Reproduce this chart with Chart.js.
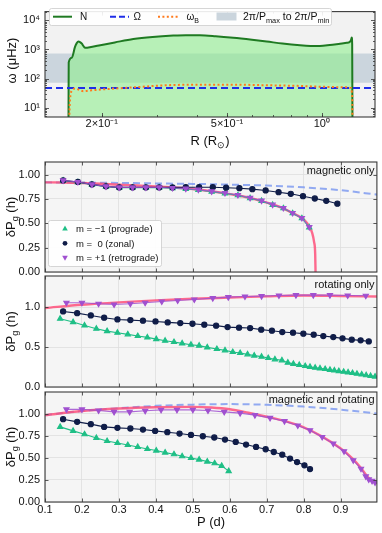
<!DOCTYPE html>
<html>
<head>
<meta charset="utf-8">
<script src="https://cdn.jsdelivr.net/npm/chart.js@4.4.1/dist/chart.umd.min.js"></script>
<style>
  body { margin: 0; background: #fff; }
  #fig { position: relative; width: 382px; height: 533px; overflow: hidden; }
  #fig canvas { position: absolute; left: 0; }
</style>
</head>
<body>
<div id="fig">
  <canvas id="freqChart" width="382" height="150" style="top:0px"></canvas>
  <canvas id="magChart" width="382" height="145" style="top:140px"></canvas>
  <canvas id="rotChart" width="382" height="138" style="top:262px"></canvas>
  <canvas id="bothChart" width="382" height="155" style="top:378px"></canvas>
</div>
<script>
// ---- top panel: frequencies vs radius ----
const rN = [0.1567, 0.1570, 0.1606, 0.1644, 0.1665, 0.1686, 0.1705, 0.1729, 0.175, 0.1772, 0.185, 0.1977, 0.22, 0.2519, 0.29, 0.3374, 0.37, 0.41, 0.46, 0.5234, 0.6, 0.6682, 0.75, 0.8528, 0.92, 0.9864, 1.06, 1.143, 1.2, 1.225, 1.238, 1.245, 1.249, 1.252];
const freqN = [1, 360, 521, 1230, 1650, 1875, 1800, 1585, 1300, 1150, 1220, 1400, 1750, 2290, 2700, 3000, 3100, 3080, 2850, 2520, 2150, 1875, 1600, 1400, 1330, 1320, 1420, 1585, 1700, 1780, 2100, 2570, 1500, 1];
const rB = [0.157, 0.1586, 0.1618, 0.1644, 0.1686, 0.1748, 0.1835, 0.1977, 0.2519, 0.3214, 0.4101, 0.5234, 0.6682, 0.8528, 0.969, 1.2, 1.235, 1.25, 1.252];
const freqB = [1, 21, 42, 46, 42, 37, 39, 42, 50, 59, 62, 62, 59, 56, 53, 50, 48, 20, 1];
const freqOmega = 48;
const bandLow = 72.7;   // 2pi/Pmax
const bandHigh = 727;   // 2pi/Pmin
const rMin = 0.132, rMax = 1.476;
const freqMin = 4.8, freqMax = 20000;
const rTicks = [0.2, 0.5, 1.0];
const rTickLabels = ['2×10⁻¹', '5×10⁻¹', '10⁰'];
const freqTicks = [10, 100, 1000, 10000];
const freqTickLabels = ['10¹', '10²', '10³', '10⁴'];

// ---- bottom panels: period spacing vs period ----
const periodTicks = [0.1, 0.2, 0.3, 0.4, 0.5, 0.6, 0.7, 0.8, 0.9];

// magnetic only
const magProP = [0.149, 0.189, 0.227, 0.265, 0.301, 0.337, 0.373, 0.409, 0.445, 0.481, 0.515, 0.551, 0.587, 0.622, 0.655, 0.686, 0.716, 0.745, 0.770, 0.795, 0.815];
const magPro = [0.938, 0.922, 0.897, 0.877, 0.866, 0.866, 0.866, 0.866, 0.860, 0.852, 0.842, 0.825, 0.808, 0.788, 0.758, 0.730, 0.689, 0.655, 0.603, 0.552, 0.458];
const magZonalP = [0.149, 0.189, 0.227, 0.265, 0.301, 0.337, 0.373, 0.409, 0.445, 0.481, 0.517, 0.554, 0.590, 0.626, 0.661, 0.697, 0.732, 0.765, 0.798, 0.830, 0.861, 0.891];
const magZonal = [0.941, 0.925, 0.900, 0.880, 0.869, 0.869, 0.869, 0.869, 0.869, 0.871, 0.871, 0.871, 0.866, 0.861, 0.851, 0.838, 0.820, 0.803, 0.779, 0.755, 0.731, 0.702];
const magRetroP = [0.149, 0.189, 0.227, 0.265, 0.301, 0.337, 0.373, 0.409, 0.445, 0.481, 0.515, 0.551, 0.587, 0.622, 0.655, 0.686, 0.716, 0.745, 0.770, 0.795, 0.815];
const magRetro = [0.941, 0.925, 0.900, 0.880, 0.869, 0.869, 0.869, 0.869, 0.863, 0.856, 0.846, 0.828, 0.812, 0.791, 0.761, 0.733, 0.692, 0.658, 0.606, 0.555, 0.462];
const magTheoryP = [0.10, 0.15, 0.2, 0.25, 0.3, 0.35, 0.4, 0.45, 0.5, 0.55, 0.6, 0.65, 0.7, 0.74, 0.77, 0.80, 0.815, 0.823, 0.828, 0.831, 0.832];
const magTheory = [0.921, 0.92, 0.915, 0.907, 0.897, 0.889, 0.880, 0.868, 0.853, 0.830, 0.800, 0.765, 0.712, 0.662, 0.606, 0.540, 0.468, 0.40, 0.31, 0.19, 0.0];
const magApproxP = [0.1, 0.2, 0.3, 0.4, 0.5, 0.6, 0.7, 0.8, 0.9, 1.0];
const magApprox = [0.921, 0.919, 0.915, 0.910, 0.905, 0.898, 0.888, 0.870, 0.840, 0.794];

// rotating only
const rotProP = [0.141, 0.176, 0.207, 0.239, 0.268, 0.296, 0.324, 0.351, 0.377, 0.401, 0.425, 0.449, 0.471, 0.495, 0.517, 0.539, 0.565, 0.587, 0.608, 0.628, 0.648, 0.666, 0.686, 0.704, 0.722, 0.741, 0.757, 0.772, 0.788, 0.804, 0.817, 0.831, 0.844, 0.858, 0.871, 0.883, 0.895, 0.908, 0.920, 0.932, 0.944, 0.957, 0.969, 0.981, 0.993];
const rotPro = [0.855, 0.813, 0.771, 0.730, 0.700, 0.680, 0.659, 0.638, 0.621, 0.600, 0.580, 0.563, 0.546, 0.530, 0.518, 0.496, 0.475, 0.459, 0.438, 0.425, 0.409, 0.393, 0.380, 0.363, 0.346, 0.334, 0.305, 0.290, 0.276, 0.263, 0.252, 0.242, 0.233, 0.225, 0.215, 0.207, 0.199, 0.191, 0.183, 0.175, 0.166, 0.157, 0.148, 0.139, 0.130];
const rotZonalP = [0.149, 0.187, 0.224, 0.260, 0.296, 0.331, 0.365, 0.399, 0.432, 0.466, 0.499, 0.531, 0.563, 0.594, 0.625, 0.655, 0.685, 0.714, 0.742, 0.771, 0.799, 0.827, 0.853, 0.880, 0.905, 0.930, 0.954, 0.976];
const rotZonal = [0.946, 0.925, 0.896, 0.868, 0.846, 0.838, 0.830, 0.821, 0.809, 0.800, 0.792, 0.780, 0.768, 0.750, 0.743, 0.738, 0.718, 0.705, 0.688, 0.680, 0.668, 0.655, 0.638, 0.625, 0.609, 0.593, 0.584, 0.571];
const rotRetroP = [0.158, 0.200, 0.245, 0.287, 0.331, 0.371, 0.416, 0.459, 0.504, 0.554, 0.596, 0.641, 0.686, 0.733, 0.779, 0.826, 0.871, 0.919, 0.968];
const rotRetro = [1.055, 1.055, 1.043, 1.034, 1.043, 1.055, 1.071, 1.084, 1.096, 1.113, 1.125, 1.134, 1.138, 1.146, 1.15, 1.15, 1.15, 1.146, 1.143];
const rotTheoryP = [0.1, 0.2, 0.3, 0.4, 0.5, 0.6, 0.7, 0.8, 0.9, 1.0];
const rotTheory = [0.99, 1.03, 1.06, 1.085, 1.105, 1.12, 1.135, 1.145, 1.14, 1.133];

// magnetic and rotating
const bothProP = [0.141, 0.176, 0.207, 0.239, 0.268, 0.296, 0.324, 0.351, 0.377, 0.401, 0.425, 0.449, 0.471, 0.495, 0.517, 0.539, 0.559, 0.578, 0.597];
const bothPro = [0.850, 0.805, 0.767, 0.725, 0.690, 0.668, 0.645, 0.623, 0.600, 0.582, 0.559, 0.540, 0.517, 0.498, 0.480, 0.457, 0.438, 0.409, 0.350];
const bothZonalP = [0.149, 0.187, 0.224, 0.260, 0.296, 0.331, 0.365, 0.398, 0.431, 0.464, 0.495, 0.527, 0.558, 0.587, 0.616, 0.644, 0.671, 0.697, 0.719, 0.742, 0.763, 0.782, 0.802, 0.817];
const bothZonal = [0.9375, 0.907, 0.881, 0.850, 0.839, 0.832, 0.820, 0.805, 0.790, 0.775, 0.759, 0.744, 0.730, 0.707, 0.680, 0.650, 0.623, 0.597, 0.566, 0.536, 0.491, 0.452, 0.415, 0.373];
const bothRetroP = [0.158, 0.200, 0.245, 0.287, 0.329, 0.371, 0.414, 0.457, 0.500, 0.541, 0.585, 0.628, 0.668, 0.709, 0.748, 0.784, 0.817, 0.850, 0.880, 0.909, 0.934, 0.955, 0.968, 0.976, 0.985, 0.993];
const bothRetro = [1.048, 1.048, 1.036, 1.020, 1.020, 1.032, 1.043, 1.043, 1.043, 1.036, 1.020, 1.006, 0.983, 0.952, 0.915, 0.866, 0.8125, 0.736, 0.661, 0.574, 0.472, 0.377, 0.290, 0.256, 0.239, 0.222];
const bothTheoryP = [0.1, 0.2, 0.3, 0.4, 0.5, 0.55, 0.6, 0.65, 0.7, 0.75, 0.8, 0.85, 0.9, 0.93, 0.955, 0.97, 0.98, 1.0];
const bothTheory = [0.983, 1.03, 1.058, 1.072, 1.077, 1.07, 1.05, 1.01, 0.965, 0.915, 0.845, 0.74, 0.605, 0.50, 0.385, 0.30, 0.255, 0.21];
const bothApproxP = [0.1, 0.2, 0.3, 0.4, 0.5, 0.6, 0.7, 0.8, 0.9, 1.0];
const bothApprox = [0.983, 1.03, 1.062, 1.088, 1.102, 1.108, 1.100, 1.08, 1.045, 1.0];

const FONT = '"Liberation Sans", Arial, sans-serif';
const GREEN = '#1fbf86', NAVY = '#101d48', PURPLE = '#a050d0';
const BAND = '#cbd5dd';

function xy(xs, ys) {
    return xs.map((x, i) => ({x: x, y: Array.isArray(ys) ? ys[i] : ys}));
}

// text with optional subscripts: parts = [[text, 'sub'?], ...]
function richText(ctx, parts, x, y, size, align) {
    let w = 0;
    parts.forEach(p => {
        ctx.font = (p[1] ? size * 0.7 : size) + 'px ' + FONT;
        w += ctx.measureText(p[0]).width;
    });
    let cx = align === 'center' ? x - w / 2 : (align === 'right' ? x - w : x);
    ctx.textAlign = 'left';
    ctx.textBaseline = 'alphabetic';
    parts.forEach(p => {
        ctx.font = (p[1] ? size * 0.7 : size) + 'px ' + FONT;
        ctx.fillText(p[0], cx, y + (p[1] ? size * 0.25 : 0));
        cx += ctx.measureText(p[0]).width;
    });
}

function vText(ctx, parts, x, yc, size) {
    ctx.save();
    ctx.translate(x, yc);
    ctx.rotate(-Math.PI / 2);
    richText(ctx, parts, 0, size * 0.35, size, 'center');
    ctx.restore();
}

function marker(ctx, kind, x, y, r, color) {
    ctx.fillStyle = color;
    ctx.beginPath();
    if (kind === 'circle') {
        ctx.arc(x, y, r, 0, Math.PI * 2);
    } else {
        const s = kind === 'up' ? 1 : -1;
        ctx.moveTo(x, y - s * r * 1.1);
        ctx.lineTo(x + r, y + s * r * 0.7);
        ctx.lineTo(x - r, y + s * r * 0.7);
        ctx.closePath();
    }
    ctx.fill();
}

// background, frame, inward ticks and extra text, per chart
function decor(off, bg, xTicks, yTicks, extra) {
    return {
        id: 'decor',
        beforeDraw(chart) {
            const a = chart.chartArea, ctx = chart.ctx;
            ctx.save();
            ctx.fillStyle = bg;
            ctx.fillRect(a.left, a.top, a.right - a.left, a.bottom - a.top);
            ctx.restore();
        },
        afterDraw(chart) {
            const a = chart.chartArea, ctx = chart.ctx;
            const sx = chart.scales.x, sy = chart.scales.y;
            ctx.save();
            ctx.strokeStyle = '#333';
            ctx.lineWidth = 0.8;
            ctx.beginPath();
            xTicks.forEach(t => {
                const px = Math.round(sx.getPixelForValue(t[0])) + 0.5;
                if (px < a.left || px > a.right) return;
                ctx.moveTo(px, a.bottom); ctx.lineTo(px, a.bottom - t[1]);
                ctx.moveTo(px, a.top); ctx.lineTo(px, a.top + t[1]);
            });
            yTicks.forEach(t => {
                const py = Math.round(sy.getPixelForValue(t[0])) + 0.5;
                if (py < a.top || py > a.bottom) return;
                ctx.moveTo(a.left, py); ctx.lineTo(a.left + t[1], py);
                ctx.moveTo(a.right, py); ctx.lineTo(a.right - t[1], py);
            });
            ctx.stroke();
            ctx.lineWidth = 1.1;
            ctx.strokeStyle = '#3a3a3a';
            ctx.strokeRect(a.left, a.top, a.right - a.left, a.bottom - a.top);
            ctx.translate(0, -off);
            ctx.fillStyle = '#111';
            extra(ctx);
            ctx.restore();
        }
    };
}

// ---------- top chart ----------
const logMinor = [];
[0.1, 1].forEach(d => { for (let k = 1; k < 10; k++) logMinor.push([d * k, 2]); });
const freqMinor = [];
[1, 10, 100, 1000, 10000].forEach(d => { for (let k = 2; k < 10; k++) freqMinor.push([d * k, 2]); });

new Chart(document.getElementById('freqChart'), {
    type: 'line',
    data: {
        datasets: [
            { data: xy(rB, freqB), borderColor: '#ff7a1c', borderWidth: 2, borderDash: [2, 2.4], pointRadius: 0, fill: false, cubicInterpolationMode: 'monotone', order: 1 },
            { data: xy([rMin, rMax], freqOmega), borderColor: '#1f2ee8', borderWidth: 2, borderDash: [7, 4], pointRadius: 0, fill: false, order: 2 },
            { data: xy(rN, freqN), borderColor: '#1f7a22', borderWidth: 2, backgroundColor: 'rgba(144,238,144,0.6)', fill: 'start', pointRadius: 0, cubicInterpolationMode: 'monotone', order: 3 },
            { data: xy([rMin, rMax], bandHigh), borderWidth: 0, borderColor: 'rgba(0,0,0,0)', backgroundColor: BAND, fill: '+1', pointRadius: 0, order: 4 },
            { data: xy([rMin, rMax], bandLow), borderWidth: 0, borderColor: 'rgba(0,0,0,0)', pointRadius: 0, fill: false, order: 5 }
        ]
    },
    options: {
        responsive: false,
        animation: false,
        layout: { padding: { top: 4, right: 7, left: 0, bottom: 0 } },
        plugins: { legend: { display: false }, tooltip: { enabled: false } },
        scales: {
            x: {
                type: 'logarithmic', min: rMin, max: rMax,
                grid: { display: false, drawTicks: false }, border: { display: false },
                afterBuildTicks: s => { s.ticks = rTicks.map(v => ({value: v})); },
                afterFit: s => { s.height = 33; },
                ticks: { callback: (v, i) => rTickLabels[i], font: { family: FONT, size: 11 }, color: '#111', padding: 0, maxRotation: 0, autoSkip: false }
            },
            y: {
                type: 'logarithmic', min: freqMin, max: freqMax,
                grid: { display: false, drawTicks: false }, border: { display: false },
                afterBuildTicks: s => { s.ticks = freqTicks.map(v => ({value: v})); },
                afterFit: s => { s.width = 45; },
                ticks: { callback: (v, i) => freqTickLabels[i], font: { family: FONT, size: 11 }, color: '#111', padding: 5, autoSkip: false }
            }
        }
    },
    plugins: [decor(0, '#f2f2f2',
        logMinor.concat(rTicks.map(v => [v, 4])),
        freqMinor.concat(freqTicks.map(v => [v, 4])),
        ctx => {
            // legend
            ctx.save();
            ctx.fillStyle = 'rgba(255,255,255,0.9)';
            ctx.strokeStyle = '#cccccc';
            ctx.lineWidth = 0.8;
            ctx.beginPath();
            ctx.roundRect(49.5, 8.5, 282, 17, 2);
            ctx.fill(); ctx.stroke();
            const cy = 16.7;
            ctx.lineWidth = 2;
            ctx.strokeStyle = '#1f7a22'; ctx.setLineDash([]);
            ctx.beginPath(); ctx.moveTo(53, cy); ctx.lineTo(72, cy); ctx.stroke();
            ctx.strokeStyle = '#1f2ee8'; ctx.setLineDash([6, 3]);
            ctx.beginPath(); ctx.moveTo(110, cy); ctx.lineTo(129, cy); ctx.stroke();
            ctx.strokeStyle = '#ff7a1c'; ctx.setLineDash([2, 2.4]);
            ctx.beginPath(); ctx.moveTo(158, cy); ctx.lineTo(178, cy); ctx.stroke();
            ctx.setLineDash([]);
            ctx.fillStyle = BAND;
            ctx.fillRect(216.5, 12.5, 20, 8);
            ctx.fillStyle = '#111';
            richText(ctx, [['N']], 80, cy + 3.6, 10, 'left');
            richText(ctx, [['Ω']], 133.5, cy + 3.6, 10, 'left');
            richText(ctx, [['ω'], ['B', 1]], 186.5, cy + 3.6, 10, 'left');
            richText(ctx, [['2π/P'], ['max', 1], [' to 2π/P'], ['min', 1]], 243, cy + 3.6, 10.5, 'left');
            ctx.restore();
            vText(ctx, [['ω (μHz)']], 11.5, 60.5, 13);
            richText(ctx, [['R (R'], ['⊙', 1], [')']], 210, 144.5, 13, 'center');
        })]
});

// ---------- bottom panels ----------
function panel(id, off, top, bottom, xHeight, yMax, yTicks, yDigits, series, extra, showX) {
    const datasets = [
        { data: xy(series.retroP, series.retro), borderColor: 'rgba(160,80,208,0.85)', backgroundColor: PURPLE, pointBackgroundColor: PURPLE, pointBorderColor: PURPLE, pointStyle: 'triangle', rotation: 180, pointRadius: 3, borderWidth: 1.1, order: 1 },
        { data: xy(series.zonalP, series.zonal), borderColor: NAVY, pointBackgroundColor: NAVY, pointBorderColor: NAVY, pointStyle: 'circle', pointRadius: 2.6, borderWidth: 1.1, order: 2 },
        { data: xy(series.proP, series.pro), borderColor: GREEN, pointBackgroundColor: GREEN, pointBorderColor: GREEN, pointStyle: 'triangle', pointRadius: 3, borderWidth: 1.1, order: 3 },
        { data: xy(series.theoryP, series.theory), borderColor: 'rgba(255,70,115,0.8)', borderWidth: 2.4, pointRadius: 0, cubicInterpolationMode: 'monotone', order: 4 }
    ];
    if (series.approxP) {
        datasets.push({ data: xy(series.approxP, series.approx), borderColor: 'rgba(120,150,240,0.8)', borderWidth: 2, borderDash: [7, 4], pointRadius: 0, cubicInterpolationMode: 'monotone', order: 5 });
    }
    return new Chart(document.getElementById(id), {
        type: 'line',
        data: { datasets: datasets },
        options: {
            responsive: false,
            animation: false,
            layout: { padding: { top: top - off, right: 5, left: 0, bottom: 0 } },
            plugins: { legend: { display: false }, tooltip: { enabled: false } },
            scales: {
                x: {
                    type: 'linear', min: 0.1, max: 0.998,
                    grid: { color: '#dedede', lineWidth: 0.8, drawTicks: false }, border: { display: false },
                    afterBuildTicks: s => { s.ticks = periodTicks.map(v => ({value: v})); },
                    afterFit: s => { s.height = xHeight; },
                    ticks: { display: showX, callback: v => v.toFixed(1), font: { family: FONT, size: 11 }, color: '#111', padding: 1, maxRotation: 0, autoSkip: false }
                },
                y: {
                    type: 'linear', min: 0, max: yMax,
                    grid: { color: '#dedede', lineWidth: 0.8, drawTicks: false }, border: { display: false },
                    afterBuildTicks: s => { s.ticks = yTicks.map(v => ({value: v})); },
                    afterFit: s => { s.width = 45; },
                    ticks: { callback: v => v.toFixed(yDigits), font: { family: FONT, size: 11 }, color: '#111', padding: 5, autoSkip: false }
                }
            }
        },
        plugins: [decor(off, '#f5f5f5', periodTicks.map(v => [v, 3.5]), yTicks.map(v => [v, 3.5]), ctx => {
            vText(ctx, [['δP'], ['g', 1], [' (h)']], 10, (top + bottom) / 2, 13);
            extra(ctx);
        })]
    });
}

panel('magChart', 140, 162, 272, 13, 1.13, [0, 0.25, 0.5, 0.75, 1.0], 2,
    { proP: magProP, pro: magPro, zonalP: magZonalP, zonal: magZonal, retroP: magRetroP, retro: magRetro,
      theoryP: magTheoryP, theory: magTheory, approxP: magApproxP, approx: magApprox },
    ctx => {
        richText(ctx, [['magnetic only']], 374.5, 173.5, 11, 'right');
        ctx.save();
        ctx.fillStyle = 'rgba(255,255,255,0.9)';
        ctx.strokeStyle = '#cccccc';
        ctx.lineWidth = 0.8;
        ctx.beginPath();
        ctx.roundRect(48.5, 220.5, 113, 46, 2);
        ctx.fill(); ctx.stroke();
        marker(ctx, 'up', 65, 228.5, 2.8, GREEN);
        marker(ctx, 'circle', 65, 243.3, 2.4, NAVY);
        marker(ctx, 'down', 65, 257.7, 2.8, PURPLE);
        ctx.fillStyle = '#111';
        richText(ctx, [['m = −1 (prograde)']], 76, 231.8, 9.5, 'left');
        richText(ctx, [['m =  0 (zonal)']], 76, 246.6, 9.5, 'left');
        richText(ctx, [['m = +1 (retrograde)']], 76, 261, 9.5, 'left');
        ctx.restore();
    }, false);

panel('rotChart', 262, 276, 387, 13, 1.39, [0, 0.5, 1.0], 1,
    { proP: rotProP, pro: rotPro, zonalP: rotZonalP, zonal: rotZonal, retroP: rotRetroP, retro: rotRetro,
      theoryP: rotTheoryP, theory: rotTheory },
    ctx => { richText(ctx, [['rotating only']], 374.5, 288.3, 11, 'right'); }, false);

panel('bothChart', 378, 392, 502, 31, 1.245, [0, 0.25, 0.5, 0.75, 1.0], 2,
    { proP: bothProP, pro: bothPro, zonalP: bothZonalP, zonal: bothZonal, retroP: bothRetroP, retro: bothRetro,
      theoryP: bothTheoryP, theory: bothTheory, approxP: bothApproxP, approx: bothApprox },
    ctx => {
        richText(ctx, [['magnetic and rotating']], 374.5, 402.5, 11, 'right');
        richText(ctx, [['P (d)']], 211, 526, 13, 'center');
    }, true);
</script>
</body>
</html>
